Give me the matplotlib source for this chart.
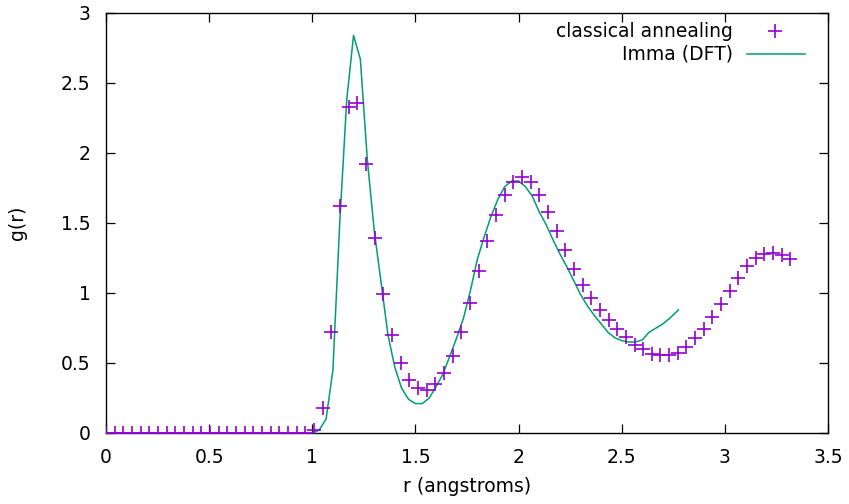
import matplotlib
matplotlib.use("Agg")
import matplotlib.pyplot as plt

# classical annealing g(r), sampled every 0.042 angstrom
r_ca = [0.0, 0.042, 0.084, 0.126, 0.168, 0.21, 0.252, 0.294, 0.336, 0.378,
        0.42, 0.462, 0.504, 0.546, 0.588, 0.63, 0.672, 0.714, 0.756, 0.798,
        0.84, 0.882, 0.924, 0.966, 1.008, 1.05, 1.092, 1.134, 1.176, 1.218,
        1.26, 1.302, 1.344, 1.386, 1.428, 1.47, 1.512, 1.554, 1.596, 1.638,
        1.68, 1.722, 1.764, 1.806, 1.848, 1.89, 1.932, 1.974, 2.016, 2.058,
        2.1, 2.142, 2.184, 2.226, 2.268, 2.31, 2.352, 2.394, 2.436, 2.478,
        2.52, 2.562, 2.604, 2.646, 2.688, 2.73, 2.772, 2.814, 2.856, 2.898,
        2.94, 2.982, 3.024, 3.066, 3.108, 3.15, 3.192, 3.234, 3.276, 3.318]
g_ca = [0, 0, 0, 0, 0, 0, 0, 0, 0, 0,
        0, 0, 0, 0, 0, 0, 0, 0, 0, 0,
        0, 0, 0, 0, 0.02, 0.18, 0.72, 1.62, 2.33, 2.355,
        1.92, 1.395, 0.99, 0.70, 0.50, 0.38, 0.32, 0.307, 0.348, 0.426,
        0.55, 0.72, 0.93, 1.16, 1.37, 1.56, 1.70, 1.79, 1.83, 1.79,
        1.70, 1.58, 1.445, 1.31, 1.174, 1.057, 0.966, 0.879, 0.807, 0.743,
        0.688, 0.63, 0.60, 0.564, 0.555, 0.555, 0.574, 0.612, 0.676, 0.74,
        0.826, 0.921, 1.016, 1.105, 1.193, 1.248, 1.279, 1.283, 1.271, 1.24]

# Imma (DFT) curve
r_dft = [1.0, 1.033, 1.067, 1.1, 1.133, 1.167, 1.2, 1.233, 1.267, 1.3,
         1.333, 1.367, 1.4, 1.433, 1.467, 1.5, 1.533, 1.567, 1.6, 1.633,
         1.667, 1.7, 1.733, 1.767, 1.8, 1.833, 1.867, 1.9, 1.933, 1.967,
         2.0, 2.033, 2.067, 2.1, 2.133, 2.167, 2.2, 2.233, 2.267, 2.3,
         2.333, 2.367, 2.4, 2.433, 2.467, 2.5, 2.533, 2.567, 2.6, 2.633,
         2.667, 2.7, 2.733, 2.775]
g_dft = [0.0, 0.02, 0.10, 0.45, 1.50, 2.38, 2.84, 2.67, 1.95, 1.45,
         1.08, 0.70, 0.47, 0.32, 0.24, 0.21, 0.21, 0.25, 0.33, 0.42,
         0.55, 0.68, 0.82, 1.02, 1.24, 1.40, 1.55, 1.67, 1.76, 1.80,
         1.80, 1.76, 1.69, 1.58, 1.49, 1.38, 1.28, 1.19, 1.09, 0.99,
         0.91, 0.84, 0.78, 0.72, 0.68, 0.66, 0.65, 0.65, 0.665, 0.72,
         0.75, 0.78, 0.82, 0.879]

x_ticks = [0, 0.5, 1, 1.5, 2, 2.5, 3, 3.5]
x_labels = ["0", "0.5", "1", "1.5", "2", "2.5", "3", "3.5"]
y_ticks = [0, 0.5, 1, 1.5, 2, 2.5, 3]
y_labels = ["0", "0.5", "1", "1.5", "2", "2.5", "3"]

purple = "#9400D3"
green = "#009E73"
fs = 13.5

fig = plt.figure(figsize=(8.49, 5.04), dpi=100)
ax = fig.add_axes([106 / 849, 1 - 433 / 504, 722 / 849, 420 / 504])

ax.plot(r_ca, g_ca, linestyle="none", marker="+", markersize=10,
        markeredgewidth=1.2, color=purple, zorder=3)
ax.plot(r_dft, g_dft, color=green, linewidth=1.1, zorder=2)

ax.set_xlim(0, 3.5)
ax.set_ylim(0, 3)
ax.set_xticks(x_ticks)
ax.set_xticklabels(x_labels)
ax.set_yticks(y_ticks)
ax.set_yticklabels(y_labels)
ax.tick_params(direction="in", length=6.5, width=0.9, top=True, right=True,
               labelsize=fs, pad=11)
for s in ax.spines.values():
    s.set_linewidth(1.0)

ax.set_xlabel("r (angstroms)", fontsize=fs)
ax.set_ylabel("g(r)", fontsize=fs)
ax.xaxis.set_label_coords(0.5, -0.105)
ax.yaxis.set_label_coords(-0.11, 0.5)

# gnuplot style key: right aligned text, sample to the right
ax.text(0.8684, 0.957, "classical annealing", transform=ax.transAxes,
        ha="right", va="center", fontsize=fs)
ax.plot([0.927], [0.957], transform=ax.transAxes, linestyle="none",
        marker="+", markersize=10, markeredgewidth=1.2, color=purple,
        clip_on=False)
ax.text(0.8684, 0.902, "Imma (DFT)", transform=ax.transAxes,
        ha="right", va="center", fontsize=fs)
ax.plot([0.8878, 0.9681], [0.902, 0.902], transform=ax.transAxes,
        color=green, linewidth=1.1, clip_on=False)

fig.savefig("out.png", dpi=100)
